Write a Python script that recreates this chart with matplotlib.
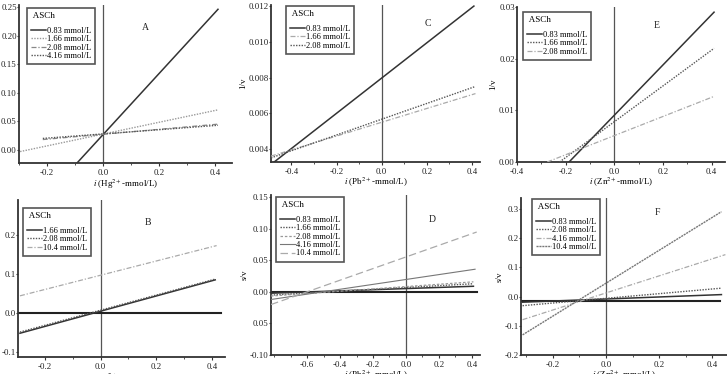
import matplotlib
matplotlib.use('Agg')
import matplotlib.pyplot as plt
from matplotlib.lines import Line2D

plt.rcParams['font.family'] = ['Liberation Serif', 'DejaVu Serif']
plt.rcParams['mathtext.fontset'] = 'stix'
plt.rcParams['axes.unicode_minus'] = False

W, H = 727, 374

# ---- data (line end points) ----
# A : Hg2+, 1/v
A_labels = ['0.83 mmol/L', '1.66 mmol/L', '2.08 mmol/L', '4.16 mmol/L']
A_x = [[-0.093, 0.41], [-0.296, 0.41], [-0.215, 0.41], [-0.215, 0.41]]
A_y = [[-0.023, 0.246], [-0.003, 0.070], [0.018, 0.045], [0.020, 0.043]]
A_yticks = [0.00, 0.05, 0.10, 0.15, 0.20, 0.25]
A_yticklabels = ['0.00', '0.05', '0.10', '0.15', '0.20', '0.25']

# B : Hg2+, s/v
B_labels = ['1.66 mmol/L', '2.08 mmol/L', '10.4 mmol/L']
B_x = [[-0.288, 0.41], [-0.288, 0.41], [-0.288, 0.415]]
B_y = [[-0.052, 0.085], [-0.049, 0.087], [0.044, 0.173]]
B_base = 0.0
B_yticks = [-0.1, 0.0, 0.1, 0.2]
B_yticklabels = ['-0.1', '0.0', '0.1', '0.2']

# C : Pb2+, 1/v
C_labels = ['0.83 mmol/L', '1.66 mmol/L', '2.08 mmol/L']
C_x = [[-0.476, 0.408], [-0.49, 0.415], [-0.49, 0.415]]
C_y = [[0.00327, 0.0120], [0.0036, 0.0071], [0.0035, 0.0075]]
C_yticks = [0.004, 0.006, 0.008, 0.010, 0.012]
C_yticklabels = ['0.004', '0.006', '0.008', '0.010', '0.012']

# D : Pb2+, s/v
D_labels = ['0.83 mmol/L', '1.66 mmol/L', '2.08 mmol/L', '4.16 mmol/L', '10.4 mmol/L']
D_x = [[-0.82, 0.41], [-0.82, 0.41], [-0.82, 0.41], [-0.82, 0.42], [-0.82, 0.43]]
D_y = [[-0.002, 0.009], [-0.005, 0.013], [-0.0065, 0.016], [-0.012, 0.036], [-0.020, 0.095]]
D_base = 0.0
D_yticks = [-0.10, -0.05, 0.00, 0.05, 0.10, 0.15]
D_yticklabels = ['-0.10', '0.05', '0.00', '0.05', '0.10', '0.15']

# E : Zn2+, 1/v
E_labels = ['0.83 mmol/L', '1.66 mmol/L', '2.08 mmol/L']
E_x = [[-0.186, 0.41], [-0.225, 0.41], [-0.276, 0.41]]
E_y = [[0.0, 0.029], [0.0, 0.022], [0.0, 0.0127]]
E_yticks = [0.00, 0.01, 0.02, 0.03]
E_yticklabels = ['0.00', '0.01', '0.02', '0.03']

# F : Zn2+, s/v
F_labels = ['0.83 mmol/L', '2.08 mmol/L', '4.16 mmol/L', '10.4 mmol/L']
F_x = [[-0.314, 0.434], [-0.314, 0.434], [-0.314, 0.449], [-0.314, 0.434]]
F_y = [[-0.019, 0.007], [-0.031, 0.029], [-0.079, 0.144], [-0.131, 0.291]]
F_base = -0.014
F_yticks = [-0.2, -0.1, 0.0, 0.1, 0.2, 0.3]
F_yticklabels = ['-0.2', '-0.1', '0.0', '0.1', '0.2', '0.3']

xticks = [-0.6, -0.4, -0.2, 0.0, 0.2, 0.4]
xticklabels = ['-0.6', '-0.4', '-0.2', '0.0', '0.2', '0.4']

styles = {
    'solid': dict(color='#333333', lw=1.1, ls='-'),
    'dotdark': dict(color='#555555', lw=1.0, ls=(0, (1, 1))),
    'dotlight': dict(color='#999999', lw=1.0, ls=(0, (1, 1))),
    'dotmid': dict(color='#777777', lw=1.0, ls=(0, (1.5, 0.6))),
    'dashdot': dict(color='#888888', lw=0.9, ls=(0, (4, 1.5, 1, 1.5))),
    'dashdotlight': dict(color='#aaaaaa', lw=0.9, ls=(0, (4, 1.5, 1, 1.5))),
    'dashlight': dict(color='#999999', lw=0.9, ls=(0, (2, 1.5))),
    'thin': dict(color='#777777', lw=0.8, ls='-'),
    'longdash': dict(color='#aaaaaa', lw=0.9, ls=(0, (6, 3))),
}

fig = plt.figure(figsize=(W / 100, H / 100), dpi=100)


def pxbox(left, right, top, bottom):
    return [left / W, 1 - bottom / H, (right - left) / W, (bottom - top) / H]


def panel(box, xlim, ylim, yticks, yticklabels, xs, ys, labels, kinds,
          letter, letterPos, legPos, ion, ylabel=None, base=None):
    ax = fig.add_axes(pxbox(*box))
    ax.set_xlim(*xlim)
    ax.set_ylim(*ylim)
    for s in ['top', 'right']:
        ax.spines[s].set_visible(False)
    for s in ['left', 'bottom']:
        ax.spines[s].set_linewidth(1.3)
        ax.spines[s].set_color('#333333')
    ax.axvline(0, color='#555555', lw=0.9, zorder=1)
    if base is not None:
        ax.plot([xlim[0], 0.43], [base, base], color='#222222', lw=1.5, zorder=2)

    handles = []
    for x, y, k in zip(xs, ys, kinds):
        ax.plot(x, y, zorder=3, **styles[k])
        handles.append(Line2D([], [], **styles[k]))

    ax.set_xticks([t for t in xticks if xlim[0] <= t <= xlim[1]])
    ax.set_xticklabels([l for t, l in zip(xticks, xticklabels) if xlim[0] <= t <= xlim[1]])
    ax.set_xticks([t / 10 for t in range(-8, 5) if xlim[0] <= t / 10 <= xlim[1]], minor=True)
    ax.set_yticks(yticks)
    ax.set_yticklabels(yticklabels)
    ax.tick_params(which='both', direction='out', labelsize=6.4, colors='#333333',
                   labelcolor='#222222')
    ax.tick_params(axis='x', which='major', length=2.5, width=0.8, pad=1.5)
    ax.tick_params(axis='x', which='minor', length=1.5, width=0.6)
    ax.tick_params(axis='y', which='major', length=1.2, width=0.8, pad=0.4)

    ax.set_xlabel(r'$i$ (' + ion + r'$^{2+}$-mmol/L)', fontsize=6.5, labelpad=0.5)
    if ylabel:
        ax.set_ylabel(ylabel, fontsize=6.5, labelpad=1)

    leg = ax.legend(handles, labels, loc='upper left',
                    bbox_to_anchor=(legPos[0] / W, 1 - legPos[1] / H),
                    bbox_transform=fig.transFigure, title=' ASCh\n',
                    alignment='left', fontsize=6.0, title_fontsize=6.5,
                    handlelength=1.8, handletextpad=0.05, labelspacing=0.05,
                    borderpad=0.5, borderaxespad=0, fancybox=False,
                    edgecolor='#555555', framealpha=1)
    leg.get_frame().set_linewidth(1.2)
    leg.get_title().set_linespacing(0.7)

    fig.text(letterPos[0] / W, 1 - letterPos[1] / H, letter, fontsize=7,
             ha='center', va='center', color='#222222')
    return ax


panel((19, 232, 5, 163), (-0.30, 0.46), (-0.023, 0.2535), A_yticks, A_yticklabels,
      A_x, A_y, A_labels, ['solid', 'dotlight', 'dashdot', 'dotdark'],
      'A', (145, 27), (27, 8), 'Hg')
panel((271, 480, 5, 162), (-0.49, 0.435), (0.00327, 0.01206), C_yticks, C_yticklabels,
      C_x, C_y, C_labels, ['solid', 'dashdotlight', 'dotdark'],
      'C', (428, 24), (286, 6), 'Pb', ylabel='1/v')
panel((517, 725, 7, 162), (-0.40, 0.455), (0.0, 0.030), E_yticks, E_yticklabels,
      E_x, E_y, E_labels, ['solid', 'dotdark', 'dashdotlight'],
      'E', (657, 26), (523, 12), 'Zn', ylabel='1/v')
panel((18, 225, 200, 357), (-0.295, 0.445), (-0.113, 0.29), B_yticks, B_yticklabels,
      B_x, B_y, B_labels, ['solid', 'dotdark', 'dashdotlight'],
      'B', (148, 222), (23, 208), 'Hg', base=B_base)
panel((271, 480, 195, 355), (-0.82, 0.45), (-0.10, 0.1537), D_yticks, D_yticklabels,
      D_x, D_y, D_labels, ['solid', 'dotdark', 'dashlight', 'thin', 'longdash'],
      'D', (432, 219), (276, 197), 'Pb', ylabel='s/v', base=D_base)
panel((521, 727, 198, 355), (-0.32, 0.455), (-0.2, 0.338), F_yticks, F_yticklabels,
      F_x, F_y, F_labels, ['solid', 'dotdark', 'dashdotlight', 'dotmid'],
      'F', (657, 212), (532, 199), 'Zn', ylabel='s/v', base=F_base)

fig.savefig('out.png', dpi=100)
